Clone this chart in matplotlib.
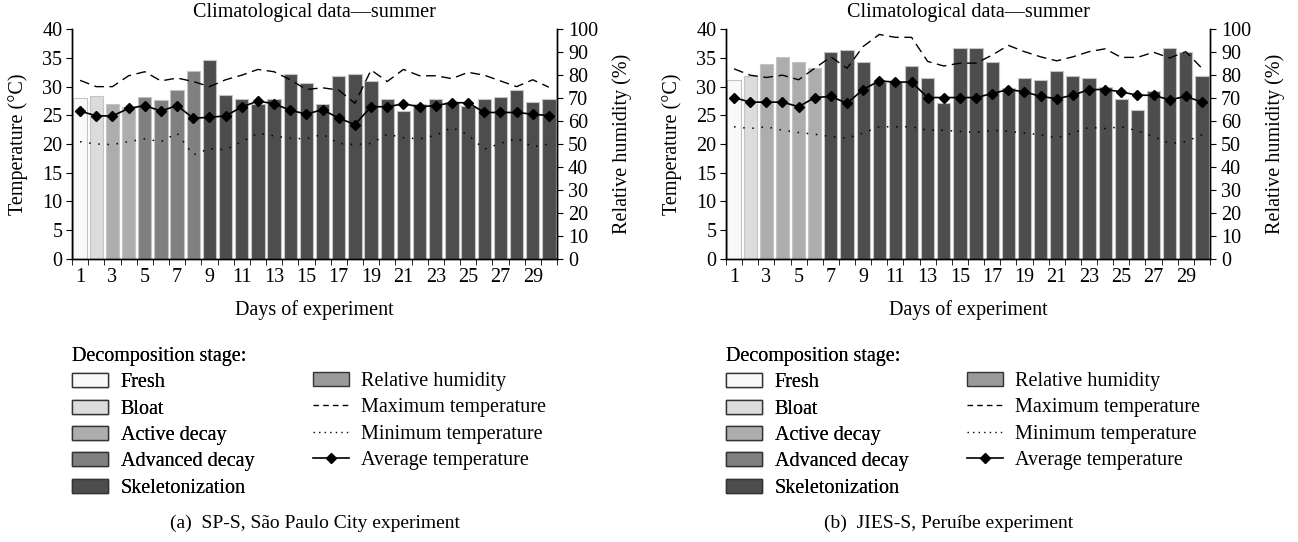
import matplotlib
matplotlib.use("Agg")
import matplotlib.pyplot as plt
import numpy as np
from matplotlib.lines import Line2D
from matplotlib.patches import Patch

plt.rcParams["font.family"] = ["Liberation Serif", "DejaVu Serif"]

# ---- data -------------------------------------------------------------
days = np.arange(1, 31)

stage_names = ["Fresh", "Bloat", "Active decay", "Advanced decay",
               "Skeletonization"]
stage_colors = ["#f8f9f8", "#dcdcdc", "#adadad", "#808080", "#4d4d4d"]

# (a) SP-S, Sao Paulo City
sp_stage = [0, 1, 2, 2, 3, 3, 3, 3] + [4] * 22
sp_humidity = [70, 71, 67.5, 66, 70.5, 69, 73.5, 82, 86.5, 71.5,
               69.5, 67.5, 69.5, 80.5, 76.5, 67.5, 79.5, 80.5, 77.5, 69.5,
               64.5, 67.5, 69.5, 68.5, 66.5, 69.5, 70.5, 73.5, 68.5, 69.5]
sp_tmax = [31.1, 30.0, 30.0, 31.9, 32.6, 31.0, 31.5, 30.9, 30.0, 31.2,
           32.0, 33.0, 32.6, 31.2, 29.5, 29.8, 29.4, 27.1, 32.9, 30.9,
           33.0, 31.9, 31.9, 31.4, 32.5, 32.0, 31.0, 30.0, 31.2, 29.9]
sp_tmin = [20.4, 20.0, 19.9, 20.4, 20.9, 20.4, 21.9, 18.1, 19.2, 19.0,
           20.4, 21.9, 21.4, 21.0, 20.9, 21.7, 20.1, 19.9, 20.1, 21.7,
           21.1, 20.9, 21.5, 22.9, 21.6, 19.1, 20.1, 21.0, 19.5, 20.0]
sp_tavg = [25.75, 24.9, 24.9, 26.2, 26.7, 25.75, 26.7, 24.5, 24.65, 24.9,
           26.45, 27.5, 27.0, 25.9, 25.2, 26.0, 24.5, 23.4, 26.5, 26.5,
           27.0, 26.5, 26.7, 27.2, 27.2, 25.5, 25.5, 25.5, 25.2, 24.95]

# (b) JIES-S, Peruibe
jies_stage = [0, 1, 2, 2, 2, 2] + [4] * 24
jies_humidity = [78, 79.5, 84.7, 87.8, 85.9, 83, 90, 91, 85.9, 77.2,
                 77.2, 83.9, 78.9, 67.7, 92, 92, 85.9, 74.3, 78.9, 77.9,
                 81.8, 79.8, 78.9, 74.7, 69.8, 64.8, 73, 92, 90, 79.8]
jies_tmax = [33.1, 32.0, 31.6, 32.0, 31.2, 33.2, 35.2, 33.2, 37.0, 39.1,
             38.6, 38.6, 34.4, 33.6, 34.1, 34.1, 35.5, 37.2, 36.1, 35.2,
             34.5, 35.2, 36.1, 36.6, 35.1, 35.1, 36.0, 35.0, 36.1, 33.2]
jies_tmin = [23.0, 22.7, 23.0, 22.4, 22.0, 21.7, 21.3, 21.0, 21.9, 23.0,
             23.0, 23.0, 22.4, 22.4, 22.2, 22.0, 22.4, 22.2, 21.9, 21.6,
             21.1, 21.9, 22.9, 22.7, 23.0, 22.3, 21.3, 20.1, 20.4, 21.6]
jies_tavg = [28.1, 27.3, 27.3, 27.3, 26.5, 28.1, 28.3, 27.1, 29.5, 31.0,
             30.8, 30.8, 28.1, 28.1, 28.1, 28.1, 28.8, 29.5, 29.1, 28.3,
             27.9, 28.5, 29.5, 29.5, 29.1, 28.5, 28.5, 27.7, 28.3, 27.3]

title = "Climatological data\u2014summer"
captions = ["(a)  SP-S, S\u00e3o Paulo City experiment",
            "(b)  JIES-S, Peru\u00edbe experiment"]

W, H = 1298, 542
FS = 14.5


def px(x0, y0, x1, y1):
    """ Pixel box (top-left origin) to figure fraction rect. """
    return [x0 / W, 1 - y1 / H, (x1 - x0) / W, (y1 - y0) / H]


def draw_panel(fig, x0, x1, humidity, tmax, tmin, tavg, stage, caption):
    ax = fig.add_axes(px(x0, 29.3, x1, 258.7))
    ax2 = ax.twinx()
    colors = [stage_colors[s] for s in stage]
    ax2.bar(days, humidity, width=0.82, color=colors,
            edgecolor="#c4c4c4", linewidth=0.8)
    ax2.set_ylim(0, 100)
    ax2.set_yticks(np.arange(0, 101, 10))

    ax.plot(days, tmax, color="black", lw=1.0, dashes=(7, 4))
    ax.plot(days, tmin, color="black", lw=1.1, dashes=(1, 5))
    ax.plot(days, tavg, color="black", lw=1.2, marker="D", ms=5)
    ax.set_ylim(0, 40)
    ax.set_yticks(np.arange(0, 41, 5))
    ax.set_xlim(0.5, 30.5)
    ax.set_xticks(days[::2])
    ax.set_xticks(np.arange(0.5, 31, 1), minor=True)
    ax.tick_params(axis="x", which="major", length=0, pad=7, labelsize=FS)
    ax.tick_params(axis="x", which="minor", length=4, direction="out")
    ax.tick_params(axis="y", length=4, direction="out", pad=3, labelsize=FS)
    ax2.tick_params(axis="y", length=4, direction="out", pad=4, labelsize=FS)
    ax.set_zorder(ax2.get_zorder() + 1)
    ax.patch.set_visible(False)
    for a in (ax, ax2):
        a.spines["top"].set_visible(False)
        for s in ("left", "right", "bottom"):
            a.spines[s].set_linewidth(1.0)

    cx = (x0 + x1) / 2 / W
    fig.text(cx, 1 - 13 / H, title, ha="center", va="center", fontsize=FS)
    fig.text(cx, 1 - 310 / H, "Days of experiment", ha="center",
             va="center", fontsize=FS)
    fig.text((x0 - 54) / W, 1 - 144 / H, "Temperature (\u00b0C)",
             rotation=90, ha="center", va="center", fontsize=FS)
    fig.text((x1 + 65) / W, 1 - 144 / H, "Relative humidity (%)",
             rotation=90, ha="center", va="center", fontsize=FS)

    # legend: stage column with title, then series column
    handles = [Patch(facecolor=c, edgecolor="#333333", lw=1.0)
               for c in stage_colors]
    leg_kw = dict(loc="upper left", frameon=False, fontsize=FS,
                  borderpad=0, borderaxespad=0, handlelength=1.8,
                  handleheight=0.7, handletextpad=0.62, labelspacing=0.36)
    leg1 = fig.legend(handles, stage_names, title="Decomposition stage:",
                      alignment="left", title_fontsize=FS,
                      bbox_to_anchor=(x0 / W, 1 - 347 / H), **leg_kw)
    series = [Patch(facecolor="#9a9a9a", edgecolor="#333333", lw=1.0),
              Line2D([], [], color="black", lw=1.0, dashes=(4, 3)),
              Line2D([], [], color="black", lw=1.0, dashes=(1, 3)),
              Line2D([], [], color="black", lw=1.2, marker="D", ms=5)]
    names = ["Relative humidity", "Maximum temperature",
             "Minimum temperature", "Average temperature"]
    fig.legend(series, names, bbox_to_anchor=((x0 + 240.7) / W, 1 - 372 / H),
               **leg_kw)
    fig.add_artist(leg1)

    fig.text((x0 + 98) / W, 1 - 523 / H, caption, ha="left",
             va="center", fontsize=FS - 0.5)
    return ax


fig = plt.figure(figsize=(W / 100, H / 100), dpi=100)
draw_panel(fig, 72, 557, sp_humidity, sp_tmax, sp_tmin, sp_tavg,
           sp_stage, captions[0])
draw_panel(fig, 726, 1210, jies_humidity, jies_tmax, jies_tmin, jies_tavg,
           jies_stage, captions[1])
fig.savefig("out.png", dpi=100)
